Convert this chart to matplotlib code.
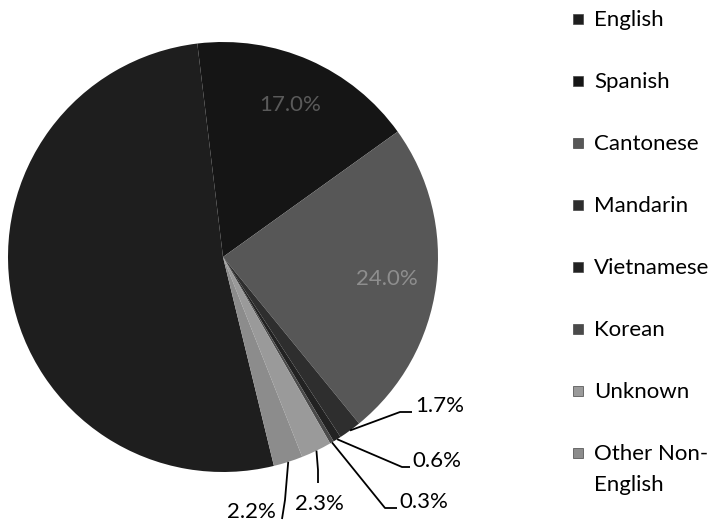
import matplotlib
matplotlib.use("Agg")
import matplotlib.pyplot as plt
import numpy as np
from matplotlib.patches import Rectangle

# data
languages = ["English", "Spanish", "Cantonese", "Mandarin", "Vietnamese",
             "Korean", "Unknown", "Other Non-\nEnglish"]
shares = [51.9, 17.0, 24.0, 1.7, 0.6, 0.3, 2.3, 2.2]
pct_labels = ["", "17.0%", "24.0%", "1.7%", "0.6%", "0.3%", "2.3%", "2.2%"]

# greys approximating the dithered scan
slice_colors = ["#1e1e1e", "#151515", "#575757", "#2e2e2e", "#222222",
                "#4a4a4a", "#9a9a9a", "#8c8c8c"]

W, H = 719, 527


def Y(y):
    # layout values are written in image pixels (top = 0)
    return H - y


plt.rcParams["font.family"] = ["Lato", "DejaVu Sans"]

fig = plt.figure(figsize=(W / 100, H / 100), dpi=100)
ax = fig.add_axes([0, 0, 1, 1])

cx, cy, r = 223, 257, 215
wedges, _ = ax.pie(shares, colors=slice_colors, startangle=90 - 166.3,
                   counterclock=False, center=(cx, Y(cy)), radius=r,
                   wedgeprops=dict(linewidth=0))
ax.set_xlim(0, W)
ax.set_ylim(0, H)
ax.set_aspect("auto")
ax.axis("off")


def edge_point(w, frac=1.0):
    t = np.deg2rad((w.theta1 + w.theta2) / 2)
    return cx + frac * r * np.cos(t), Y(cy) + frac * r * np.sin(t)


fs = 16

# labels inside the two big slices (barely readable in the scan)
inside_colors = {1: "#5a5a5a", 2: "#8e8e8e"}
for i, col in inside_colors.items():
    x, y = edge_point(wedges[i], 0.77)
    ax.text(x, y, pct_labels[i], fontsize=fs, color=col, ha="center", va="center")

# small slices with leader lines: (elbow, line end, text pos, ha)
leaders = {
    3: ((400, 412), (412, 412), (415, 412), "left"),
    4: ((402, 467), (410, 467), (412, 467), "left"),
    5: ((385, 508), (397, 508), (399, 508), "left"),
    6: ((318, 470), (318, 483), (319, 510), "center"),
    7: ((285, 500), (282, 519), (276, 518), "right"),
}
for i, (elbow, end, tpos, ha) in leaders.items():
    x0, y0 = edge_point(wedges[i])
    ax.plot([x0, elbow[0], end[0]], [y0, Y(elbow[1]), Y(end[1])],
            color="black", lw=1.3, solid_capstyle="butt")
    ax.text(tpos[0], Y(tpos[1]), pct_labels[i], fontsize=fs, color="black",
            ha=ha, va="baseline")

# legend drawn by hand to keep the wide spacing of the original
for i, (lab, col) in enumerate(zip(languages, slice_colors)):
    base = 26 + 62 * i
    ax.add_patch(Rectangle((573, Y(base - 2)), 10, 10, facecolor=col,
                           edgecolor="#444444", lw=0.5))
    for j, line in enumerate(lab.split("\n")):
        ax.text(594, Y(base + 31 * j), line, fontsize=fs, color="black",
                ha="left", va="baseline")

fig.savefig("out.png", dpi=100)
